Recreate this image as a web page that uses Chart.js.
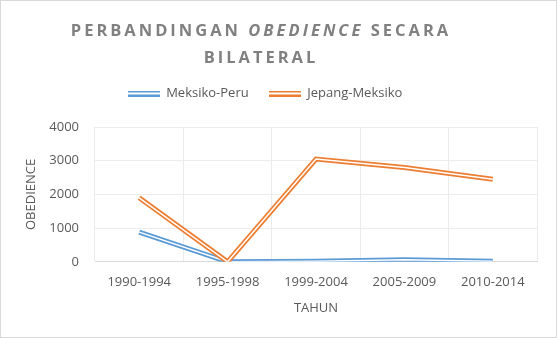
<!DOCTYPE html>
<html>
<head>
<meta charset="utf-8">
<script src="https://cdn.jsdelivr.net/npm/chart.js@4.4.0/dist/chart.umd.min.js"></script>
<style>
  html, body { margin: 0; padding: 0; background: #fff; }
  #wrap { position: relative; width: 557px; height: 338px; box-sizing: border-box; border: 1px solid #d9d9d9; overflow: hidden; }
  #title { position: absolute; left: 0; top: 15px; width: 520px; text-align: center;
           font-family: "Open Sans", sans-serif; font-weight: bold; font-size: 16.5px;
           letter-spacing: 3px; line-height: 27px; color: #808080; }
  #title i { font-style: italic; }
  canvas { position: absolute; left: 0; top: 0; }
</style>
</head>
<body>
<div id="wrap">
  <canvas id="chart" width="555" height="336"></canvas>
  <div id="title">PERBANDINGAN <i>OBEDIENCE</i> SECARA<br>BILATERAL</div>
</div>
<script>
// data
const kategori = ['1990-1994', '1995-1998', '1999-2004', '2005-2009', '2010-2014'];
const meksikoPeru = [880, 0, 20, 60, 20];
const jepangMeksiko = [1900, 0, 3050, 2800, 2450];
const yTicks = [0, 1000, 2000, 3000, 4000];

const BIRU = '#5b9bd5';
const ORANYE = '#ed7d31';

// garis ganda ala Excel untuk legend
function doubleLine(color) {
    const c = document.createElement('canvas');
    c.width = 32; c.height = 6;
    const g = c.getContext('2d');
    g.fillStyle = color;
    g.fillRect(0, 0, 32, 2);
    g.fillRect(0, 4, 32, 2);
    g.fillStyle = '#ffffff';
    g.fillRect(0, 2, 32, 2);
    return c;
}

// legend: jarak bawah lebih besar dan sedikit geser ke kiri
const legendTweak = {
    id: 'legendTweak',
    afterInit(chart) {
        const lg = chart.legend;
        const fit = lg.fit;
        lg.fit = function() { fit.call(this); this.height += 17; };
    },
    afterLayout(chart) {
        chart.legend.left -= 15;
        chart.legend.right -= 15;
    }
};

const lineBase = { pointRadius: 0, tension: 0, fill: false, borderJoinStyle: 'miter' };

const ctx = document.getElementById('chart').getContext('2d');
new Chart(ctx, {
    type: 'line',
    data: {
        labels: kategori,
        datasets: [
            Object.assign({ label: 'Meksiko-Peru', data: meksikoPeru, borderColor: BIRU, borderWidth: 5, order: 4, pointStyle: doubleLine(BIRU) }, lineBase),
            Object.assign({ label: 'Jepang-Meksiko', data: jepangMeksiko, borderColor: ORANYE, borderWidth: 5, order: 2, pointStyle: doubleLine(ORANYE) }, lineBase),
            Object.assign({ label: '', data: meksikoPeru, borderColor: '#ffffff', borderWidth: 1.5, order: 3, inLegend: false }, lineBase),
            Object.assign({ label: '', data: jepangMeksiko, borderColor: '#ffffff', borderWidth: 1.5, order: 1, inLegend: false }, lineBase)
        ]
    },
    plugins: [legendTweak],
    options: {
        responsive: false,
        animation: false,
        layout: { padding: { top: 66, right: 19, bottom: 21, left: 22 } },
        plugins: {
            tooltip: { enabled: false },
            title: { display: false },
            legend: {
                position: 'top',
                labels: {
                    usePointStyle: true,
                    pointStyleWidth: 32,
                    boxHeight: 6,
                    padding: 20,
                    color: '#595959',
                    font: { family: 'Open Sans', size: 13 },
                    filter: (item, data) => data.datasets[item.datasetIndex].inLegend !== false,
                    sort: (a, b) => a.datasetIndex - b.datasetIndex
                }
            }
        },
        scales: {
            x: {
                offset: true,
                grid: { offset: true, color: '#ececec', drawTicks: false },
                border: { display: true, color: '#d9d9d9' },
                ticks: { color: '#595959', font: { family: 'Open Sans', size: 13 }, padding: 13 },
                title: { display: true, text: 'TAHUN', color: '#595959', font: { family: 'Open Sans', size: 13 }, padding: { top: -3, bottom: 0 } }
            },
            y: {
                min: 0, max: 4000,
                afterBuildTicks: axis => { axis.ticks = yTicks.map(v => ({ value: v })); },
                afterFit: axis => { axis.width = 72; },
                grid: { color: '#ececec', drawTicks: false },
                border: { display: false },
                ticks: { color: '#595959', font: { family: 'Open Sans', size: 13 }, padding: 16, callback: v => String(v) },
                title: { display: true, text: 'OBEDIENCE', color: '#595959', font: { family: 'Open Sans', size: 13 }, padding: 0 }
            }
        }
    }
});
</script>
</body>
</html>
